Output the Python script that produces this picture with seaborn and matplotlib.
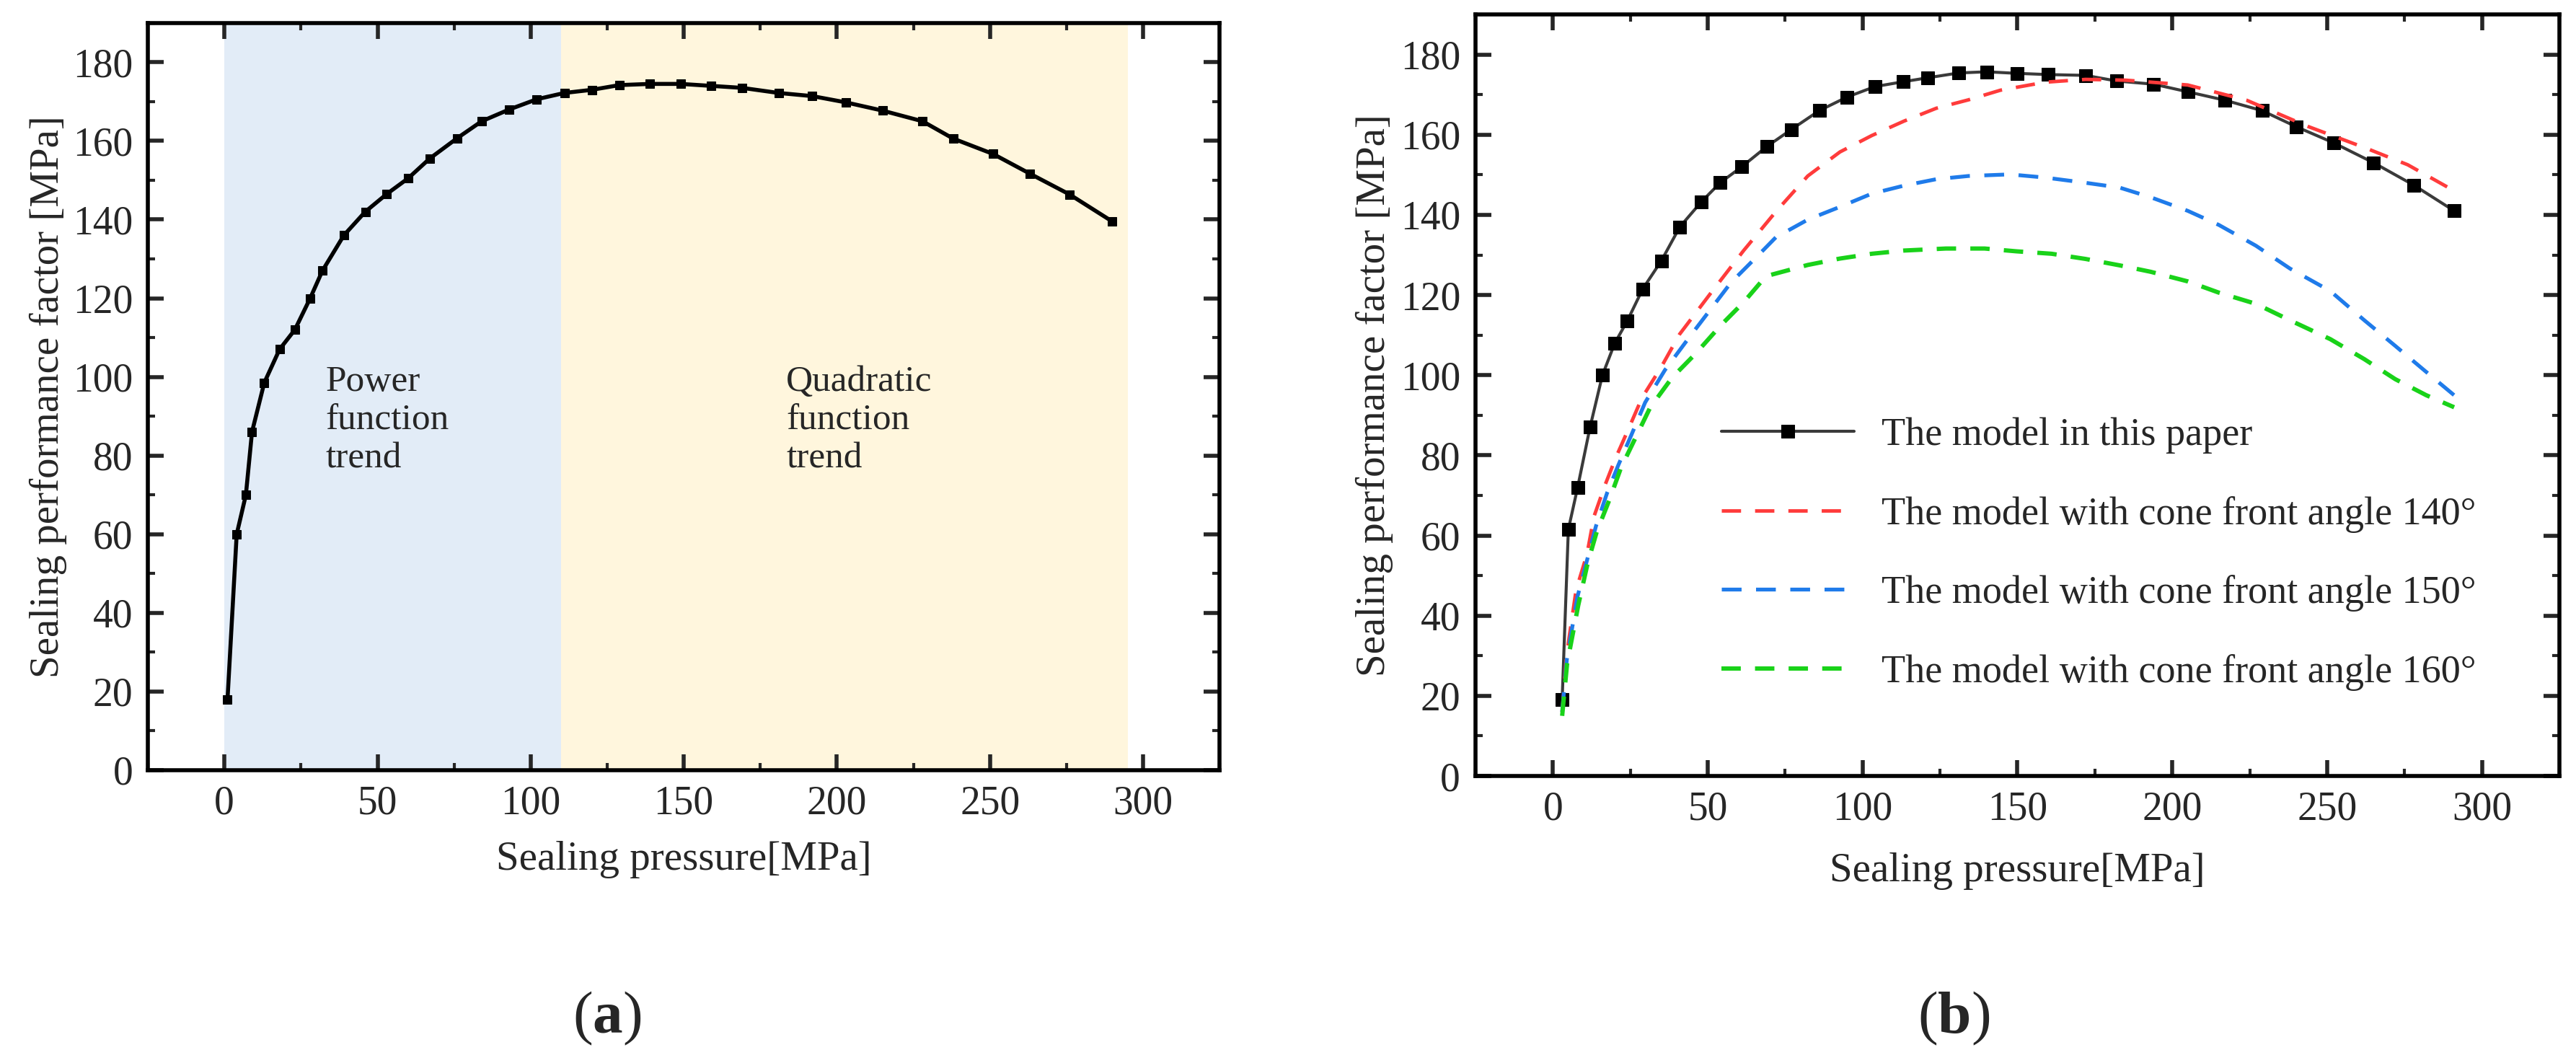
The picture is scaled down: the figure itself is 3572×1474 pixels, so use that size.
import matplotlib
matplotlib.use("Agg")
import matplotlib.pyplot as plt
from matplotlib.ticker import MultipleLocator, AutoMinorLocator
import seaborn as sns

# ---- data ----
# (a) single model curve
pa_x = [1, 4, 7, 9, 13, 18, 23, 28, 32, 39, 46, 53, 60, 67, 76, 84, 93, 102,
        111, 120, 129, 139, 149, 159, 169, 181, 192, 203, 215, 228, 238, 251,
        263, 276, 290]
pa_y = [18, 60, 70, 86, 98.5, 107, 112, 120, 127, 136, 142, 146.5, 150.5,
        155.5, 160.7, 165, 168, 170.6, 172.2, 173, 174.2, 174.5, 174.5, 174,
        173.5, 172.2, 171.4, 169.8, 167.7, 165, 160.6, 156.7, 151.7, 146.4, 139.5]
power_span = (0, 110)
quad_span = (110, 295)

# (b) model comparison
model_x = [3, 5, 8, 12, 16, 20, 24, 29, 35, 41, 48, 54, 61, 69, 77, 86, 95,
           104, 113, 121, 131, 140, 150, 160, 172, 182, 194, 205, 217, 229,
           240, 252, 265, 278, 291]
model_y = [19, 61.5, 72, 87, 100, 108, 113.5, 121.5, 128.5, 137, 143.3, 148,
           152, 157, 161.3, 166, 169.4, 172, 173.2, 174.2, 175.4, 175.7, 175.3,
           175, 174.8, 173.4, 172.6, 170.7, 168.6, 166, 162, 158, 153, 147.4, 141]

a140_x = [3, 4.4, 7.5, 11, 13.3, 16.8, 20.3, 24.6, 28.8, 34.9, 40.9, 51.2,
          61.6, 72, 82.3, 92.7, 103, 113.4, 123.8, 134.2, 144.5, 159, 172, 185,
          205, 224, 244, 263, 276, 291]
a140_y = [16, 30, 46.4, 55.3, 64.8, 72.5, 79.4, 86.9, 94.4, 101.9, 110.2, 120.7,
          131.1, 140.8, 149.7, 155.7, 159.8, 163.4, 166.6, 168.7, 171.1, 173.1,
          173.8, 173.6, 172.4, 168.6, 162, 156.5, 152.5, 146]

a150_x = [3, 4.5, 7.9, 13.9, 17.5, 21.1, 25.3, 29.8, 36.2, 44, 57.5, 66.8, 72,
          82.3, 92.7, 103, 113.4, 123.8, 134.2, 147.6, 159, 172, 183, 193, 205,
          215, 227, 238, 251, 262, 272, 282, 291]
a150_y = [16, 29, 44.6, 62.3, 70.6, 77.5, 85, 93.2, 101.3, 109.4, 123.1, 130.3,
          134.4, 138.8, 142, 145.3, 147.3, 148.9, 149.7, 150.1, 149.3, 148,
          146.8, 144.4, 141, 137.5, 132.3, 126.6, 121, 113.7, 107.3, 100.8, 95]

a160_x = [3, 4.6, 8.2, 11.3, 14.2, 18.2, 22, 26.7, 31.4, 38.5, 46, 54.3, 61.6,
          68.8, 82.3, 92.7, 103, 113.4, 126.9, 139.4, 149.7, 161, 172, 183, 193,
          205, 215, 227, 238, 251, 262, 272, 282, 291]
a160_y = [15, 28, 42.6, 53.3, 61, 68.8, 76.9, 84.4, 91.9, 99.4, 105.3, 112.5,
          118.2, 124.7, 127.5, 129.1, 130.3, 131.1, 131.6, 131.6, 130.9, 130.3,
          129, 127.4, 125.8, 123.4, 120.6, 117.8, 113.7, 109, 104, 99, 95, 92]

labels_b = ["The model in this paper",
            "The model with cone front angle 140°",
            "The model with cone front angle 150°",
            "The model with cone front angle 160°"]

sns.set_style("ticks")
plt.rcParams["font.family"] = ["Liberation Serif", "DejaVu Serif"]
plt.rcParams["mathtext.fontset"] = "custom"
plt.rcParams["mathtext.rm"] = "Liberation Serif"
plt.rcParams["mathtext.bf"] = "Liberation Serif:bold"

fig = plt.figure(figsize=(35.73, 14.74), dpi=100)
ax_a = fig.add_axes([0.0574, 0.2755, 0.4159, 0.7029])
ax_b = fig.add_axes([0.5726, 0.270, 0.4207, 0.7164])


def style_axes(ax):
    ax.set_xlim(-25, 325)
    ax.set_ylim(0, 190)
    ax.xaxis.set_major_locator(MultipleLocator(50))
    ax.yaxis.set_major_locator(MultipleLocator(20))
    ax.xaxis.set_minor_locator(AutoMinorLocator(2))
    ax.yaxis.set_minor_locator(AutoMinorLocator(2))
    ax.tick_params(which="both", direction="in", top=True, right=True)
    ax.tick_params(which="major", length=16, width=4, labelsize=40, pad=15)
    ax.tick_params(which="minor", length=7, width=3)
    for s in ax.spines.values():
        s.set_linewidth(4)
        s.set_color("black")


# ---- (a) ----
ax_a.axvspan(*power_span, color="#E2ECF7", lw=0, zorder=0)
ax_a.axvspan(*quad_span, color="#FFF6DD", lw=0, zorder=0)
sns.lineplot(x=pa_x, y=pa_y, ax=ax_a, color="black", lw=4, marker="s",
             markersize=9, markeredgecolor="black", errorbar=None)
style_axes(ax_a)
ax_a.set_xlabel("Sealing pressure[MPa]", fontsize=41, labelpad=18)
ax_a.set_ylabel("Sealing performance factor [MPa]", fontsize=41, labelpad=6)
ax_a.text(33, 103, "Power\nfunction\ntrend", fontsize=37, va="top", ha="left")
ax_a.text(183.5, 103, "Quadratic\nfunction\ntrend", fontsize=37, va="top", ha="left")

# ---- (b) ----
sns.lineplot(x=model_x, y=model_y, ax=ax_b, color="#3a3a3a", lw=3, marker="s",
             markersize=13, markerfacecolor="black", markeredgecolor="black",
             errorbar=None, label=labels_b[0])
sns.lineplot(x=a140_x, y=a140_y, ax=ax_b, color="#FF3B3B", lw=3.5,
             linestyle=(0, (5.5, 4)), errorbar=None, label=labels_b[1])
sns.lineplot(x=a150_x, y=a150_y, ax=ax_b, color="#1F7BEA", lw=3.8,
             linestyle=(0, (5.2, 3.8)), errorbar=None, label=labels_b[2])
sns.lineplot(x=a160_x, y=a160_y, ax=ax_b, color="#19D219", lw=4.3,
             linestyle=(0, (4.5, 3.3)), errorbar=None, label=labels_b[3])
style_axes(ax_b)
ax_b.set_xlabel("Sealing pressure[MPa]", fontsize=41, labelpad=24)
ax_b.set_ylabel("Sealing performance factor [MPa]", fontsize=41, labelpad=7)
ax_b.legend(loc="upper left", bbox_to_anchor=(0.227, 0.471), frameon=False,
            fontsize=39, handlelength=3.4, handletextpad=0.7, labelspacing=1.08,
            borderpad=0, borderaxespad=0)

fig.text(0.2357, 0.042, r"($\mathbf{a}$)", fontsize=60, ha="center", va="center")
fig.text(0.7582, 0.042, r"($\mathbf{b}$)", fontsize=60, ha="center", va="center")

fig.savefig("out.png", dpi=100, facecolor="white")
